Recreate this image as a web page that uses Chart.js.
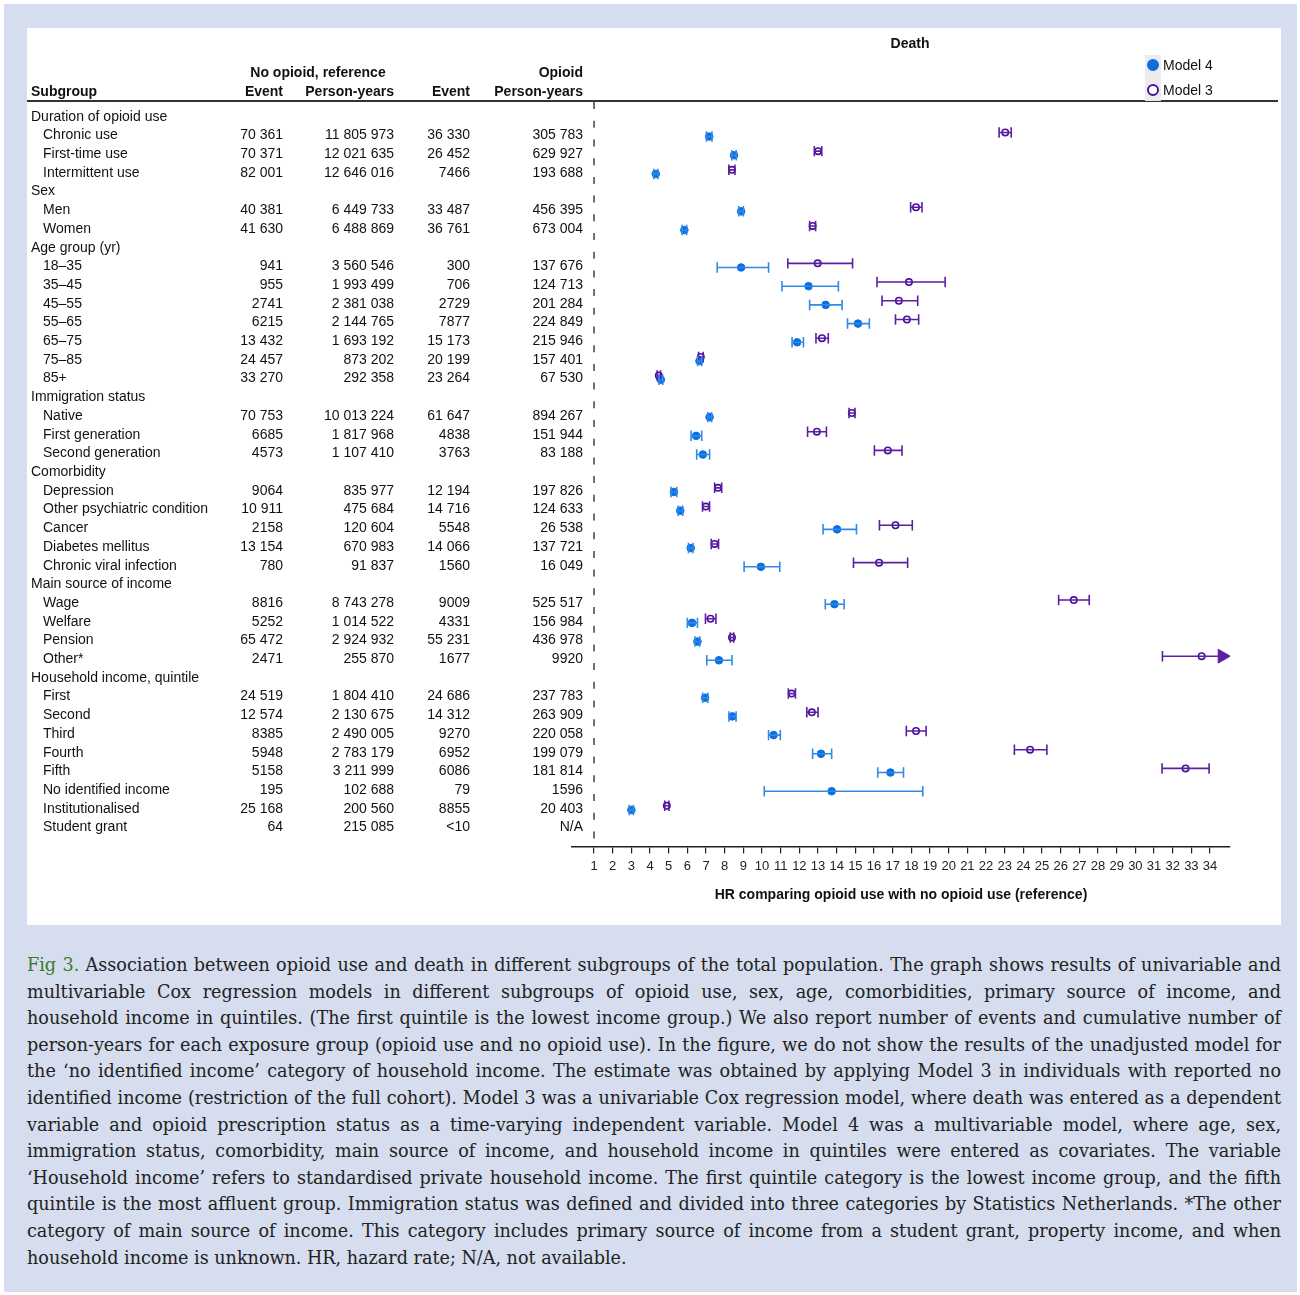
<!DOCTYPE html>
<html>
<head>
<meta charset="utf-8">
<script src="https://cdn.jsdelivr.net/npm/chart.js@4.4.1/dist/chart.umd.min.js"></script>
<style>
body { margin:0; background:#fff; width:1300px; height:1295px; position:relative; overflow:hidden; font-family:"Liberation Sans", Arial, sans-serif; color:#111; }
#frame { position:absolute; left:4px; top:4px; width:1293px; height:1288px; background:#d5ddee; }
#panel { position:absolute; left:27px; top:28px; width:1254px; height:897px; background:#fff; }
#panel canvas { position:absolute; left:0; top:0; }
.t { position:absolute; font-size:14px; line-height:16px; white-space:nowrap; transform:translateY(-50%); }
.b { font-weight:bold; }
.r { transform:translate(-100%, -50%); }
.c { transform:translate(-50%, -50%); }
#hline { position:absolute; left:0; top:72px; width:1251px; height:1.5px; background:#333; }
#legbg { position:absolute; left:1118px; top:27px; width:16px; height:46px; background:#ececec; }
.dot { position:absolute; width:12px; height:12px; border-radius:50%; box-sizing:border-box; transform:translate(-50%, -50%); }
#caption { position:absolute; left:27px; top:952px; width:1254px; font-family:"DejaVu Serif", serif; color:#222; }
#caption div { text-align:justify; text-align-last:justify; line-height:26.6px; height:26.6px; }
#caption div:last-child { text-align-last:left; }
#caption .fig { color:#3b7a2a; }
</style>
</head>
<body>
<div id="frame"></div>
<div id="panel">
  <canvas id="myChart" width="1254" height="897"></canvas>
  <div id="hline"></div>
  <div id="legbg"></div>
</div>
<div id="caption"></div>
<script>
// table columns
const rowLabels = ['Duration of opioid use','Chronic use','First-time use','Intermittent use','Sex','Men','Women','Age group (yr)',
  '18–35','35–45','45–55','55–65','65–75','75–85','85+','Immigration status','Native','First generation','Second generation',
  'Comorbidity','Depression','Other psychiatric condition','Cancer','Diabetes mellitus','Chronic viral infection',
  'Main source of income','Wage','Welfare','Pension','Other*','Household income, quintile','First','Second','Third','Fourth','Fifth',
  'No identified income','Institutionalised','Student grant'];
const noOpEvent = ['','70 361','70 371','82 001','','40 381','41 630','','941','955','2741','6215','13 432','24 457','33 270','',
  '70 753','6685','4573','','9064','10 911','2158','13 154','780','','8816','5252','65 472','2471','',
  '24 519','12 574','8385','5948','5158','195','25 168','64'];
const noOpPY = ['','11 805 973','12 021 635','12 646 016','','6 449 733','6 488 869','','3 560 546','1 993 499','2 381 038','2 144 765','1 693 192','873 202','292 358','',
  '10 013 224','1 817 968','1 107 410','','835 977','475 684','120 604','670 983','91 837','','8 743 278','1 014 522','2 924 932','255 870','',
  '1 804 410','2 130 675','2 490 005','2 783 179','3 211 999','102 688','200 560','215 085'];
const opEvent = ['','36 330','26 452','7466','','33 487','36 761','','300','706','2729','7877','15 173','20 199','23 264','',
  '61 647','4838','3763','','12 194','14 716','5548','14 066','1560','','9009','4331','55 231','1677','',
  '24 686','14 312','9270','6952','6086','79','8855','<10'];
const opPY = ['','305 783','629 927','193 688','','456 395','673 004','','137 676','124 713','201 284','224 849','215 946','157 401','67 530','',
  '894 267','151 944','83 188','','197 826','124 633','26 538','137 721','16 049','','525 517','156 984','436 978','9920','',
  '237 783','263 909','220 058','199 079','181 814','1596','20 403','N/A'];

// hazard ratios (null = not shown)
const m4HR = [null,7.17,8.5,4.31,null,8.88,5.84,null,8.88,12.49,13.41,15.14,11.88,6.65,4.58,null,7.19,6.47,6.83,null,
  5.28,5.62,14.02,6.18,9.94,null,13.88,6.25,6.54,7.69,null,6.95,8.41,10.62,13.16,16.88,13.73,3.0,null];
const m4Lo = [null,7.02,8.38,4.2,null,8.76,5.72,null,7.6,11.07,12.55,14.58,11.61,6.55,4.48,null,7.1,6.2,6.5,null,
  5.12,5.5,13.27,6.06,9.04,null,13.39,6.0,6.41,7.04,null,6.82,8.23,10.35,12.71,16.2,10.12,2.89,null];
const m4Hi = [null,7.32,8.62,4.42,null,9.0,5.96,null,10.35,14.09,14.29,15.75,12.22,6.77,4.68,null,7.3,6.77,7.19,null,
  5.43,5.75,15.06,6.3,10.95,null,14.4,6.54,6.67,8.39,null,7.1,8.61,10.98,13.73,17.58,18.61,3.11,null];
const m3HR = [null,23.03,13.0,8.39,null,18.25,12.71,null,12.98,17.87,17.33,17.76,13.21,6.72,4.47,null,14.81,12.94,16.74,null,
  7.64,6.99,17.15,7.46,16.27,null,26.7,7.24,8.39,33.55,null,11.59,12.67,18.25,24.36,32.69,null,4.9,null];
const m3Lo = [null,22.7,12.8,8.22,null,17.96,12.55,null,11.38,16.16,16.43,17.15,12.89,6.6,4.38,null,14.66,12.44,16.02,null,
  7.46,6.81,16.29,7.28,14.9,null,25.89,6.97,8.3,31.45,null,11.41,12.4,17.73,23.52,31.43,null,4.79,null];
const m3Hi = [null,23.35,13.2,8.55,null,18.57,12.87,null,14.85,19.81,18.34,18.39,13.55,6.85,4.56,null,14.98,13.45,17.5,null,
  7.84,7.19,18.05,7.67,17.8,null,27.53,7.53,8.48,null,null,11.79,13.0,18.79,25.26,33.95,null,5.01,null];

const hrTicks = [1,2,3,4,5,6,7,8,9,10,11,12,13,14,15,16,17,18,19,20,21,22,23,24,25,26,27,28,29,30,31,32,33,34];

const BLUE = '#0b6fde', BLUE_CI = '#3089e8', PURPLE = '#4d0f9c', PURPLE_CI = '#5a1fa3';
const OFF4 = 0.12, OFF3 = -0.1, CAP = 0.28, ARROW_AT = 34.65;

function ciSegments(lo, hi, off) {
  const pts = [];
  lo.forEach((l, i) => {
    if (l == null) return;
    const y = i + off;
    const end = hi[i] == null ? ARROW_AT : hi[i];
    pts.push({x: l, y: y}, {x: end, y: y}, {x: end, y: null});
    pts.push({x: l, y: y - CAP}, {x: l, y: y + CAP}, {x: l, y: null});
    if (hi[i] != null) pts.push({x: hi[i], y: y - CAP}, {x: hi[i], y: y + CAP}, {x: hi[i], y: null});
  });
  return pts;
}
function points(hr, off) {
  return hr.map((v, i) => v == null ? null : {x: v, y: i + off}).filter(p => p);
}
const arrows = m3Lo.map((l, i) => (l != null && m3Hi[i] == null) ? {x: ARROW_AT, y: i + OFF3} : null).filter(p => p);

var ctx = document.getElementById('myChart').getContext('2d');
var myChart = new Chart(ctx, {
  type: 'scatter',
  data: {
    datasets: [
      { data: [{x: 1, y: -0.72}, {x: 1, y: 38.65}], showLine: true, borderColor: '#111', borderWidth: 1.2,
        borderDash: [7, 11.7], pointRadius: 0 },
      { data: ciSegments(m4Lo, m4Hi, OFF4), showLine: true, spanGaps: false, borderColor: BLUE_CI, borderWidth: 1.6, pointRadius: 0 },
      { data: ciSegments(m3Lo, m3Hi, OFF3), showLine: true, spanGaps: false, borderColor: PURPLE_CI, borderWidth: 1.6, pointRadius: 0 },
      { data: arrows, pointStyle: 'triangle', rotation: 90, pointRadius: 8, backgroundColor: PURPLE_CI, borderColor: PURPLE_CI, borderWidth: 1 },
      { label: 'Model 4', data: points(m4HR, OFF4), pointRadius: 3.8, backgroundColor: BLUE, borderColor: BLUE, borderWidth: 1 },
      { label: 'Model 3', data: points(m3HR, OFF3), pointRadius: 3.2, backgroundColor: '#fff', borderColor: PURPLE, borderWidth: 1.6 }
    ]
  },
  options: {
    responsive: false,
    animation: false,
    devicePixelRatio: 1,
    layout: { padding: { left: 545, right: 51, top: 73, bottom: 17 } },
    plugins: { legend: { display: false }, tooltip: { enabled: false } },
    scales: {
      x: {
        type: 'linear', min: -0.18, max: 35.07,
        afterBuildTicks: s => { s.ticks = hrTicks.map(v => ({value: v})); },
        ticks: { autoSkip: false, maxRotation: 0, padding: 5, color: '#222', font: { family: 'Liberation Sans', size: 13 } },
        grid: { drawOnChartArea: false, drawTicks: true, tickLength: 7, color: '#222', lineWidth: 1.2 },
        border: { display: true, color: '#222', width: 1.5 },
        title: { display: true, text: 'HR comparing opioid use with no opioid use (reference)', color: '#111',
          font: { family: 'Liberation Sans', size: 14, weight: 'bold' }, padding: { top: 8, bottom: 4 } }
      },
      y: { type: 'linear', min: -0.78, max: 39.08, reverse: true, display: false }
    }
  }
});

// table text, placed on the chart's row scale
const panel = document.getElementById('panel');
function addText(txt, x, y, cls) {
  const d = document.createElement('div');
  d.className = 't ' + (cls || '');
  d.textContent = txt;
  d.style.left = x + 'px';
  d.style.top = y + 'px';
  panel.appendChild(d);
}
const ys = myChart.scales.y;
rowLabels.forEach((lab, i) => {
  const y = ys.getPixelForValue(i);
  const heading = noOpEvent[i] === '';
  addText(lab, heading ? 4 : 16, y);
  if (heading) return;
  addText(noOpEvent[i], 256, y, 'r');
  addText(noOpPY[i], 367, y, 'r');
  addText(opEvent[i], 443, y, 'r');
  addText(opPY[i], 556, y, 'r');
});
addText('Death', 883, 15, 'b c');
addText('No opioid, reference', 291, 44, 'b c');
addText('Opioid', 556, 44, 'b r');
addText('Subgroup', 4, 63, 'b');
addText('Event', 256, 63, 'b r');
addText('Person-years', 367, 63, 'b r');
addText('Event', 443, 63, 'b r');
addText('Person-years', 556, 63, 'b r');
// legend
[['Model 4', 37, BLUE, BLUE], ['Model 3', 62, '#fff', PURPLE]].forEach(([lab, y, fill, stroke]) => {
  const d = document.createElement('div');
  d.className = 'dot';
  d.style.left = '1126px'; d.style.top = y + 'px';
  d.style.background = fill; d.style.border = '2px solid ' + stroke;
  panel.appendChild(d);
  addText(lab, 1136, y);
});

// caption
const captionLines = [
  'Association between opioid use and death in different subgroups of the total population. The graph shows results of univariable and',
  'multivariable Cox regression models in different subgroups of opioid use, sex, age, comorbidities, primary source of income, and',
  'household income in quintiles. (The first quintile is the lowest income group.) We also report number of events and cumulative number of',
  'person-years for each exposure group (opioid use and no opioid use). In the figure, we do not show the results of the unadjusted model for',
  'the ‘no identified income’ category of household income. The estimate was obtained by applying Model 3 in individuals with reported no',
  'identified income (restriction of the full cohort). Model 3 was a univariable Cox regression model, where death was entered as a dependent',
  'variable and opioid prescription status as a time-varying independent variable. Model 4 was a multivariable model, where age, sex,',
  'immigration status, comorbidity, main source of income, and household income in quintiles were entered as covariates. The variable',
  '‘Household income’ refers to standardised private household income. The first quintile category is the lowest income group, and the fifth',
  'quintile is the most affluent group. Immigration status was defined and divided into three categories by Statistics Netherlands. *The other',
  'category of main source of income. This category includes primary source of income from a student grant, property income, and when',
  'household income is unknown. HR, hazard rate; N/A, not available.'
];
const cap = document.getElementById('caption');
const mctx = document.createElement('canvas').getContext('2d');
mctx.font = '20px "DejaVu Serif"';
let widest = 0;
captionLines.forEach((l, i) => { widest = Math.max(widest, mctx.measureText((i === 0 ? 'Fig 3. ' : '') + l).width); });
const fs = Math.min(19.5, 20 * 1248 / widest);
cap.style.fontSize = fs + 'px';
captionLines.forEach((l, i) => {
  const d = document.createElement('div');
  if (i === 0) {
    const s = document.createElement('span'); s.className = 'fig'; s.textContent = 'Fig 3.';
    d.appendChild(s); d.appendChild(document.createTextNode(' ' + l));
  } else d.textContent = l;
  cap.appendChild(d);
});
</script>
</body>
</html>
